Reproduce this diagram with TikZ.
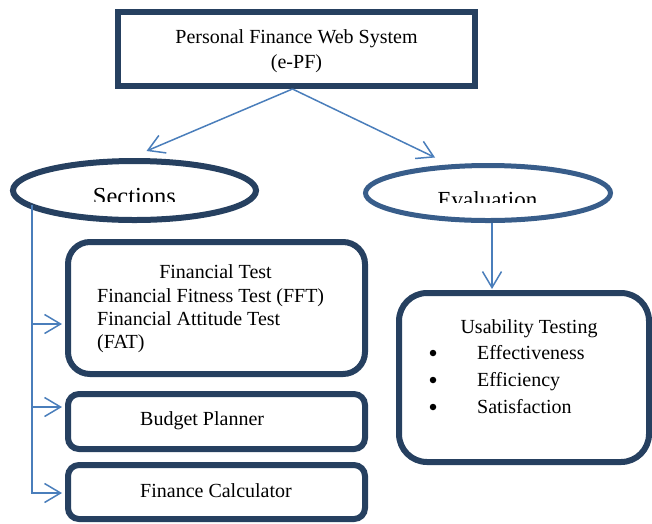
\documentclass[tikz,border=0pt]{standalone}
\usepackage{fontspec}
\setmainfont{Liberation Serif}
\usetikzlibrary{arrows.meta,shapes.geometric}
\definecolor{navy}{RGB}{38,64,96}
\definecolor{evalblue}{RGB}{56,93,138}
\definecolor{linkblue}{RGB}{74,126,187}
\begin{document}
\begin{tikzpicture}[x=1pt,y=-1pt,
  txt/.style={font=\fontsize{20}{24}\selectfont, inner sep=0pt},
  headbox/.style={draw=navy, line width=6pt, fill=white, inner sep=0pt},
  roundbox/.style={draw=navy, line width=6pt, fill=white, inner sep=0pt},
  oval/.style={ellipse, fill=white, inner sep=0pt},
  dot/.style={circle, fill=black, inner sep=0pt, minimum size=6.5pt},
  link/.style={draw=linkblue, line width=1.5pt,
    -{Straight Barb[length=16pt,width=19pt,line width=1.5pt]}},
  trunk/.style={draw=linkblue, line width=1.5pt}
]
\useasboundingbox (0,0) rectangle (652,523);

% top level system box
\node[headbox, minimum width=357pt, minimum height=74pt] (sys) at (296.5,49) {};
\node[txt, anchor=base] (sys l1) at (296.5,43) {Personal Finance Web System};
\node[txt, anchor=base] (sys l2) at (296.5,68) {(e-PF)};

% the two branches
\node[oval, draw=navy, line width=6pt, minimum width=243pt, minimum height=59pt] (sec) at (134.5,190.5) {};
\node[oval, draw=evalblue, line width=5pt, minimum width=245pt, minimum height=55pt] (eval) at (488,193) {};
\begin{scope}
  \clip (20,165) rectangle (250,201.7);
  \node[font=\fontsize{24.5}{29}\selectfont, inner sep=0pt, anchor=base] (sec label) at (134.5,204.2) {Sections};
\end{scope}
\begin{scope}
  \clip (375,170) rectangle (600,202.7);
  \node[font=\fontsize{23}{28}\selectfont, inner sep=0pt, anchor=base] (eval label) at (487.5,207.2) {Evaluation};
\end{scope}

% sections
\node[roundbox, rounded corners=22pt, minimum width=297pt, minimum height=132pt] (ft) at (216.5,308) {};
\node[txt, anchor=base] (ft l1) at (215.5,278) {Financial Test};
\node[txt, anchor=base west] (ft l2) at (97,302) {Financial Fitness Test (FFT)};
\node[txt, anchor=base west] (ft l3) at (97,325) {Financial Attitude Test};
\node[txt, anchor=base west] (ft l4) at (97,348) {(FAT)};

\node[roundbox, rounded corners=11pt, minimum width=297pt, minimum height=55pt] (bp) at (216.5,421.5) {};
\node[txt, anchor=base west] (bp l) at (140,425) {Budget Planner};

\node[roundbox, rounded corners=11pt, minimum width=297pt, minimum height=54pt] (fc) at (216.5,492) {};
\node[txt, anchor=base west] (fc l) at (140,497) {Finance Calculator};

% evaluation
\node[roundbox, rounded corners=28pt, minimum width=250pt, minimum height=169pt] (usab) at (524,377.5) {};
\node[txt, anchor=base] (usab l) at (529,333) {Usability Testing};
\node[dot] (b1) at (433,353) {};
\node[txt, anchor=base west] (u1) at (477,359) {Effectiveness};
\node[dot] (b2) at (433,380) {};
\node[txt, anchor=base west] (u2) at (477,386) {Efficiency};
\node[dot] (b3) at (433,407) {};
\node[txt, anchor=base west] (u3) at (477,413) {Satisfaction};

% connectors
\coordinate (fork) at ([xshift=-4pt]sys.south);
\draw[link] (fork) -- ([xshift=12pt,yshift=7pt]sec.north);
\draw[link] (fork) -- ([xshift=-53pt,yshift=5.5pt]eval.north);

\coordinate (ev out) at ([xshift=4pt]eval.south);
\draw[link, shorten >=1pt] (ev out) -- (ev out |- usab.north);

\coordinate (trunk top) at (32,205);
\coordinate (j1) at (32,324);
\coordinate (j2) at (32,407);
\coordinate (j3) at (32,493);
\draw[link, shorten >=3pt] (j1) -- (j1 -| ft.west);
\draw[link, shorten >=3pt] (j2) -- (j2 -| bp.west);
\draw[link, shorten >=3pt] (trunk top) -- (j3) -- (j3 -| fc.west);
\end{tikzpicture}
\end{document}
